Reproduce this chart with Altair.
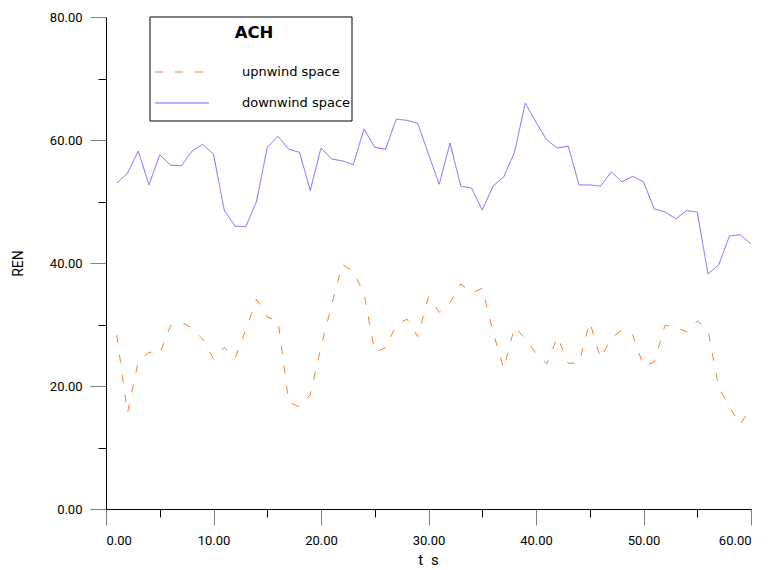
import altair as alt
import pandas as pd

# ---- data ----
t = list(range(1, 61))
upwind = [28.3, 15.6, 24.0, 25.5, 25.3, 29.8, 30.4, 29.4, 27.6, 24.4,
          26.3, 24.5, 29.1, 34.1, 31.2, 30.7, 17.4, 16.6, 18.6, 26.3,
          33.3, 39.8, 38.6, 35.1, 25.5, 26.2, 29.9, 30.9, 28.0, 34.5,
          32.0, 33.5, 36.6, 35.1, 35.9, 28.8, 22.8, 29.6, 27.7, 25.3,
          23.6, 28.0, 23.7, 23.7, 30.4, 24.5, 27.8, 29.1, 28.3, 23.2,
          23.9, 29.9, 29.6, 28.8, 30.6, 29.1, 19.7, 16.6, 13.7, 16.6]
downwind = [53.0, 54.6, 58.2, 52.7, 57.6, 55.9, 55.8, 58.2, 59.3, 57.7,
            48.6, 46.0, 45.9, 50.0, 58.8, 60.6, 58.5, 58.0, 51.8, 58.7,
            56.9, 56.6, 56.0, 61.8, 58.8, 58.5, 63.4, 63.2, 62.7, 57.7,
            52.8, 59.5, 52.5, 52.2, 48.6, 52.5, 54.0, 58.0, 66.0, 62.9,
            60.0, 58.7, 59.0, 52.7, 52.7, 52.5, 54.8, 53.2, 54.1, 53.2,
            48.8, 48.3, 47.2, 48.5, 48.3, 38.2, 39.7, 44.4, 44.6, 43.1]
series_names = ["upnwind space", "downwind space"]
legend_title = "ACH"
x_ticks = [0, 5, 10, 15, 20, 25, 30, 35, 40, 45, 50, 55, 60]
y_ticks = [0, 10, 20, 30, 40, 50, 60, 70, 80]

colors = ["#FF7F2A", "#6B6BFF"]
dashes = [[8, 12], [1, 0]]

df = pd.DataFrame({
    "t": t * 2,
    "value": upwind + downwind,
    "series": [series_names[0]] * len(t) + [series_names[1]] * len(t),
})

tick_font = "Roboto"
leg_font = "DejaVu Sans"

lines = alt.Chart(df).mark_line(strokeWidth=1, clip=False).encode(
    x=alt.X("t:Q",
            scale=alt.Scale(domain=[0, 60], nice=False, zero=False),
            axis=alt.Axis(
                values=x_ticks, title="t\u2002s", grid=False,
                domainColor="black", domainWidth=1,
                tickSize={"condition": {"test": "datum.value % 10 === 0", "value": 16}, "value": 8},
                tickColor={"condition": {"test": "datum.value % 10 === 0", "value": "#7f7f7f"}, "value": "black"},
                labelExpr="datum.value % 10 === 0 ? format(datum.value, '.2f') : ''",
                labelFont=tick_font, labelFontSize=13, labelColor="black",
                labelPadding=9,
                titleFont=tick_font, titleFontSize=15, titleFontWeight="normal",
                titleColor="black", titleX=322, titleY=55, titleBaseline="alphabetic",
            )),
    y=alt.Y("value:Q",
            scale=alt.Scale(domain=[0, 80], nice=False),
            axis=alt.Axis(
                values=y_ticks, title="REN", grid=False,
                domainColor="black", domainWidth=1,
                tickSize={"condition": {"test": "datum.value % 20 === 0", "value": 16}, "value": 8},
                tickColor={"condition": {"test": "datum.value % 20 === 0", "value": "#7f7f7f"}, "value": "black"},
                labelExpr="datum.value % 20 === 0 ? format(datum.value, '.2f') : ''",
                labelFont=tick_font, labelFontSize=13, labelColor="black",
                labelPadding=8,
                titleFont=tick_font, titleFontSize=14, titleFontWeight="normal",
                titleColor="black", titleX=-88, titleY=246, titleAngle=-90,
                titleAlign="center", titleBaseline="middle",
            )),
    color=alt.Color("series:N", scale=alt.Scale(domain=series_names, range=colors), legend=None),
    strokeDash=alt.StrokeDash("series:N", scale=alt.Scale(domain=series_names, range=dashes), legend=None),
    detail="series:N",
)

# ---- custom boxed legend ----
one = pd.DataFrame({"k": [0]})
box = alt.Chart(one).mark_rect(fill="white", stroke="black", strokeWidth=1).encode(
    x=alt.value(44), x2=alt.value(246), y=alt.value(0), y2=alt.value(104))
title_txt = alt.Chart(one).mark_text(
    text=legend_title, font=leg_font, fontSize=16.5, fontWeight="bold",
    align="center", baseline="middle", color="black").encode(
    x=alt.value(148), y=alt.value(16))
leg_up_line = alt.Chart(one).mark_rule(color=colors[0], strokeWidth=1, strokeDash=dashes[0]).encode(
    x=alt.value(49), x2=alt.value(103), y=alt.value(55))
leg_dn_line = alt.Chart(one).mark_rule(color=colors[1], strokeWidth=1).encode(
    x=alt.value(49), x2=alt.value(103), y=alt.value(86))
leg_up_txt = alt.Chart(one).mark_text(
    text=series_names[0], font=leg_font, fontSize=13, align="left",
    baseline="middle", color="black").encode(x=alt.value(136), y=alt.value(55))
leg_dn_txt = alt.Chart(one).mark_text(
    text=series_names[1], font=leg_font, fontSize=13, align="left",
    baseline="middle", color="black").encode(x=alt.value(136), y=alt.value(86))

chart = alt.layer(
    lines, box, title_txt, leg_up_line, leg_dn_line, leg_up_txt, leg_dn_txt
).properties(
    width=645, height=492,
    autosize=alt.AutoSizeParams(type="none"),
    padding={"left": 98, "top": 9, "right": 10, "bottom": 59},
    background="white",
).configure_view(stroke=None)

chart.save("out.html", embed_options={"renderer": "svg", "actions": False})
